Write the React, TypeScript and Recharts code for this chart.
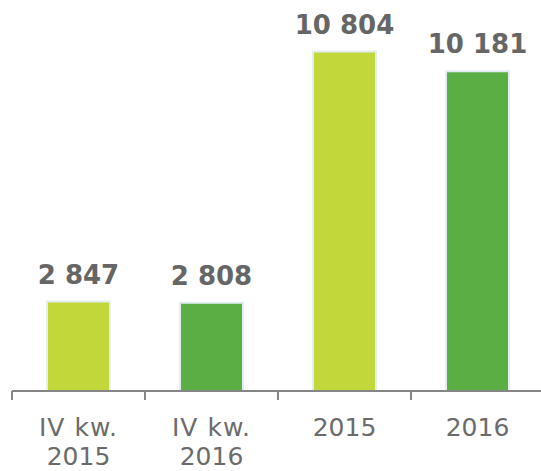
import React from 'react';
import { BarChart, Bar, XAxis, YAxis, Cell, LabelList } from 'recharts';

const categories = ['IV kw.\n2015', 'IV kw.\n2016', '2015', '2016'];
const values = [2847, 2808, 10804, 10181];
const barColors = ['#C1D73A', '#5BAE44', '#C1D73A', '#5BAE44'];

const data = categories.map((c, i) => ({ name: c, value: values[i] }));

const fmt = (v: any) => String(v).replace(/\B(?=(\d{3})+(?!\d))/g, ' ');

const AXIS_COLOR = '#858585';
const FONT = '"DejaVu Sans", Verdana, sans-serif';

const Tick = (props: any) => {
  const { x, y, payload, index } = props;
  const lines = String(payload.value).split('\n');
  const half = payload.offset ?? 66.5;
  return (
    <g>
      <line x1={x - half} x2={x - half} y1={y} y2={y + 9} stroke={AXIS_COLOR} strokeWidth={2} />
      {index === categories.length - 1 && (
        <line x1={x + half} x2={x + half} y1={y} y2={y + 9} stroke={AXIS_COLOR} strokeWidth={2} />
      )}
      <text x={x} y={y + 45} textAnchor="middle" fill="#6b6b6b" fontSize={25} fontFamily={FONT}>
        {lines.map((l, i) => (
          <tspan
            key={i}
            x={x}
            dy={i === 0 ? 0 : 29}
            letterSpacing={/^\d+$/.test(l) ? 0 : 1}
          >
            {l}
          </tspan>
        ))}
      </text>
    </g>
  );
};

export default function App() {
  return (
    <div
      style={{
        position: 'absolute',
        left: 0,
        top: 0,
        width: 541,
        height: 471,
        overflow: 'hidden',
        background: '#ffffff',
      }}
    >
      <BarChart
        width={548}
        height={471}
        data={data}
        margin={{ top: 14, right: 4, left: 12, bottom: 0 }}
      >
        <YAxis hide domain={[0, 12000]} />
        <XAxis
          dataKey="name"
          interval={0}
          height={80}
          tickLine={false}
          tickSize={0}
          tickMargin={0}
          axisLine={{ stroke: AXIS_COLOR, strokeWidth: 2 }}
          tick={<Tick />}
        />
        <Bar dataKey="value" barSize={63} stroke="#E4EEF2" strokeWidth={2} isAnimationActive={false}>
          {data.map((d, i) => (
            <Cell key={i} fill={barColors[i]} />
          ))}
          <LabelList
            dataKey="value"
            position="top"
            offset={18}
            formatter={fmt}
            fill="#666666"
            stroke="none"
            fontSize={26}
            fontWeight="bold"
            fontFamily={FONT}
          />
        </Bar>
      </BarChart>
    </div>
  );
}
